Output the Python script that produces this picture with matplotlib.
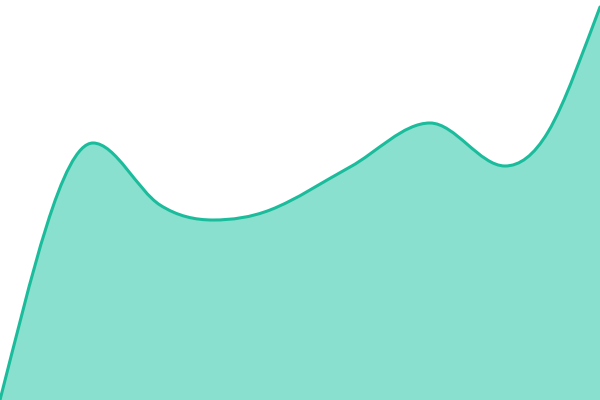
import numpy as np
import matplotlib
matplotlib.use("Agg")
from matplotlib import pyplot as plt
from matplotlib.path import Path
from matplotlib.patches import PathPatch

# knot positions and values (pixel units, 0 = bottom)
x_vals = [0, 93, 160, 213, 270, 350, 430, 505, 548, 600]
y_vals = [0, 257, 195, 180, 190, 233, 277, 234, 268, 393]
end_slopes = (3.9, 2.6)

line_color = "#1abc9c"
fill_color = "#8ae0cf"


def tangents(x, y, start, end):
    # zero slope at peaks/troughs, central difference elsewhere
    m = np.zeros(len(x))
    m[0], m[-1] = start, end
    for i in range(1, len(x) - 1):
        if (y[i] - y[i - 1]) * (y[i + 1] - y[i]) <= 0:
            m[i] = 0.0
        else:
            m[i] = (y[i + 1] - y[i - 1]) / (x[i + 1] - x[i - 1])
    return m


def smooth_path(x, y):
    x = np.asarray(x, float)
    y = np.asarray(y, float)
    m = tangents(x, y, *end_slopes)
    verts = [(x[0], y[0])]
    codes = [Path.MOVETO]
    for i in range(len(x) - 1):
        h = x[i + 1] - x[i]
        verts += [(x[i] + h / 3, y[i] + m[i] * h / 3),
                  (x[i + 1] - h / 3, y[i + 1] - m[i + 1] * h / 3),
                  (x[i + 1], y[i + 1])]
        codes += [Path.CURVE4] * 3
    return verts, codes


fig = plt.figure(figsize=(6, 4), dpi=100)
ax = fig.add_axes([0, 0, 1, 1])
ax.set_xlim(0, 600)
ax.set_ylim(0, 400)
ax.axis("off")

verts, codes = smooth_path(x_vals, y_vals)

# area: curve then down to the baseline and back
area_verts = verts + [(x_vals[-1], 0), (x_vals[0], 0), verts[0]]
area_codes = codes + [Path.LINETO, Path.LINETO, Path.CLOSEPOLY]
ax.add_patch(PathPatch(Path(area_verts, area_codes), facecolor=fill_color,
                       edgecolor="none"))
ax.add_patch(PathPatch(Path(verts, codes), facecolor="none",
                       edgecolor=line_color, linewidth=2.2,
                       capstyle="round", joinstyle="round"))

fig.savefig("out.png", dpi=100)
